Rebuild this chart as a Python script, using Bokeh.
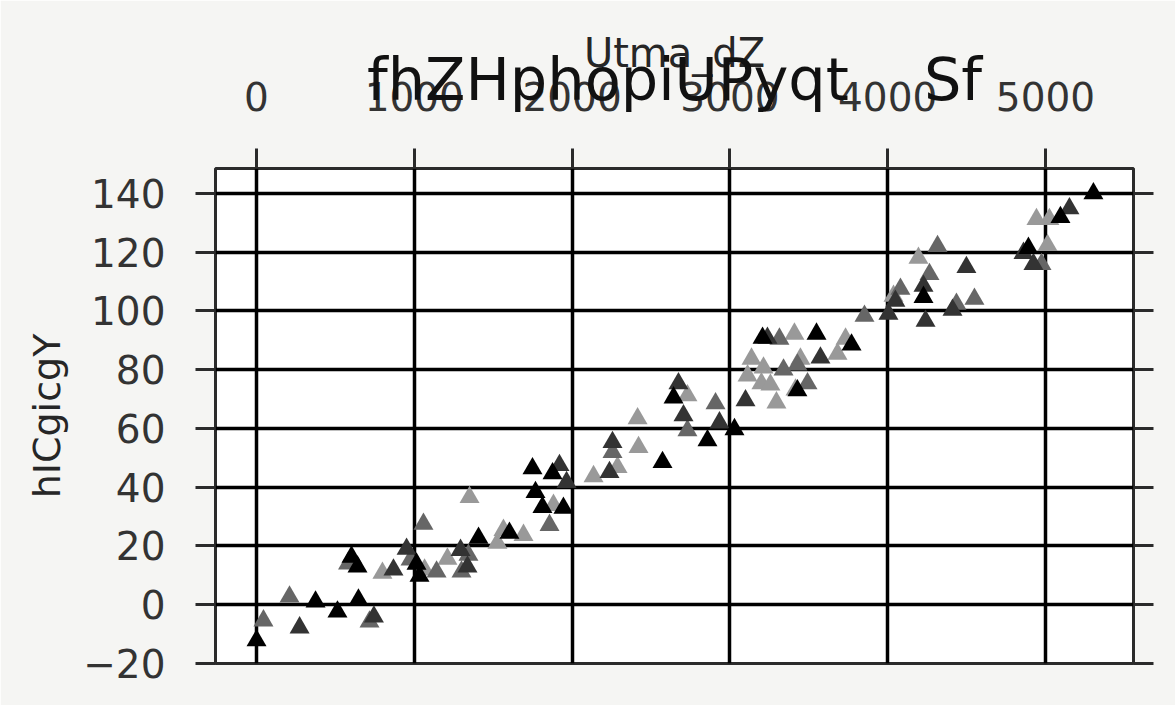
from bokeh.plotting import figure
from bokeh.models import FixedTicker, LinearAxis, Range1d
from bokeh.embed import file_html
from bokeh.resources import INLINE

NBSP = "\u00a0"
title_text = "fhZHphopiUPyqt" + NBSP * 4 + "Sf"
x_label = "Utma_dZ"
y_label = "hICgicgY"
x_ticks = [0, 1000, 2000, 3000, 4000, 5000]
y_ticks = [-20, 0, 20, 40, 60, 80, 100, 120, 140]

# series: black
x_black = [0, 374, 513, 602, 640, 646, 1014, 1033, 1407, 1603, 1749, 1768, 1812, 1945, 1876,
           2573, 2643, 2858, 3029, 3207, 3549, 3771, 3428, 4227, 5304, 5095, 4892]
y_black = [-12.2, 1.0, -2.4, 16.3, 12.9, 1.7, 13.9, 9.8, 22.7, 24.4, 46.4, 38.3, 33.2, 32.9, 44.7,
           48.5, 70.5, 55.9, 59.7, 90.8, 92.2, 88.5, 72.9, 104.7, 140.0, 131.9, 121.4]
# series: dark gray
x_dark = [273, 744, 868, 951, 1293, 1337, 1920, 1965, 2256, 2237, 2674, 2706, 2934, 3099, 3238,
          3574, 4005, 4049, 4227, 4240, 4499, 4411, 5152, 4861, 4924]
y_dark = [-7.8, -4.1, 11.9, 19.0, 18.6, 12.9, 47.5, 41.7, 55.3, 45.1, 75.3, 64.4, 62.0, 69.5, 90.8,
          84.1, 99.0, 103.4, 108.5, 96.6, 114.9, 100.3, 134.9, 119.7, 115.9]
# series: mid gray
x_mid = [44, 209, 580, 716, 976, 1058, 1141, 1299, 1343, 1857, 2256, 2731, 2909, 3314, 3340,
         3428, 3492, 3853, 4081, 4316, 4265, 4436, 4550, 4975]
y_mid = [-5.4, 2.7, 14.0, -5.8, 15.3, 27.5, 11.2, 11.2, 16.9, 27.1, 51.9, 59.3, 68.5, 90.5, 80.0,
         81.7, 75.3, 98.3, 107.5, 122.0, 112.5, 102.4, 104.1, 115.9]
# series: light gray
x_light = [798, 1065, 1210, 1350, 1565, 1692, 1527, 1882, 2136, 2288, 2421, 2415, 2731, 3409, 3733,
           3137, 3213, 3112, 3200, 3257, 3447, 3682, 3416, 3295, 4037, 4195, 5025, 4943, 5013]
y_light = [10.8, 11.9, 15.6, 36.6, 25.4, 23.7, 21.0, 33.9, 43.7, 46.8, 53.6, 63.4, 71.2, 92.2, 90.5,
           83.7, 80.7, 78.0, 75.3, 74.9, 83.7, 85.4, 73.2, 68.8, 105.1, 118.0, 131.2, 131.2, 122.4]

FONT = "DejaVu Sans"

p = figure(width=1175, height=705, output_backend="svg", toolbar_location=None,
           x_axis_location="above", x_range=Range1d(-260, 5558), y_range=Range1d(-20, 148.5),
           min_border_left=215, min_border_right=42, min_border_top=168, min_border_bottom=42,
           title="\n" + title_text, title_location="above")
p.border_fill_color = "#f5f5f3"
p.background_fill_color = "#ffffff"
p.outline_line_color = "#2b2b2b"
p.outline_line_width = 3

p.title.text_font = FONT
p.title.text_font_size = "59px"
p.title.text_font_style = "normal"
p.title.text_color = "#111111"
p.title.text_line_height = 1.65
p.title.align = "center"
p.title.vertical_align = "top"
p.title.standoff = -180

right_axis = LinearAxis()
p.add_layout(right_axis, "right")

for ax in p.xaxis:
    ax.ticker = FixedTicker(ticks=x_ticks)
for ax in p.yaxis:
    ax.ticker = FixedTicker(ticks=y_ticks)
    ax.major_label_overrides = {-20: "\u221220"}

for ax in p.axis:
    ax.axis_line_color = None
    ax.major_tick_in = 0
    ax.major_tick_out = 20
    ax.major_tick_line_width = 3
    ax.major_tick_line_color = "#2b2b2b"
    ax.minor_tick_line_color = None
    ax.major_label_text_font = FONT
    ax.major_label_text_font_size = "39px"
    ax.major_label_text_color = "#333333"
    ax.axis_label_text_font = FONT
    ax.axis_label_text_font_size = "38px"
    ax.axis_label_text_font_style = "normal"
    ax.axis_label_text_color = "#262626"

p.xaxis[0].axis_label = x_label
p.xaxis[0].axis_label_text_font_size = "40px"
p.xaxis[0].major_label_standoff = 38
p.xaxis[0].axis_label_standoff = 3
p.yaxis[0].axis_label = y_label
p.yaxis[0].major_label_standoff = 30
p.yaxis[0].axis_label_standoff = 11
right_axis.major_label_overrides = {t: "" for t in y_ticks}
right_axis.major_label_standoff = 0

p.xgrid.ticker = FixedTicker(ticks=x_ticks)
p.ygrid.ticker = FixedTicker(ticks=y_ticks)
p.grid.grid_line_color = "#000000"
p.grid.grid_line_width = 3.5

size = 20
p.scatter(x_light, y_light, marker="triangle", size=size, fill_color="#999999", line_color=None)
p.scatter(x_mid, y_mid, marker="triangle", size=size, fill_color="#666666", line_color=None)
p.scatter(x_dark, y_dark, marker="triangle", size=size, fill_color="#333333", line_color=None)
p.scatter(x_black, y_black, marker="triangle", size=size, fill_color="#000000", line_color=None)

open("out.html", "w").write(file_html(p, INLINE))
